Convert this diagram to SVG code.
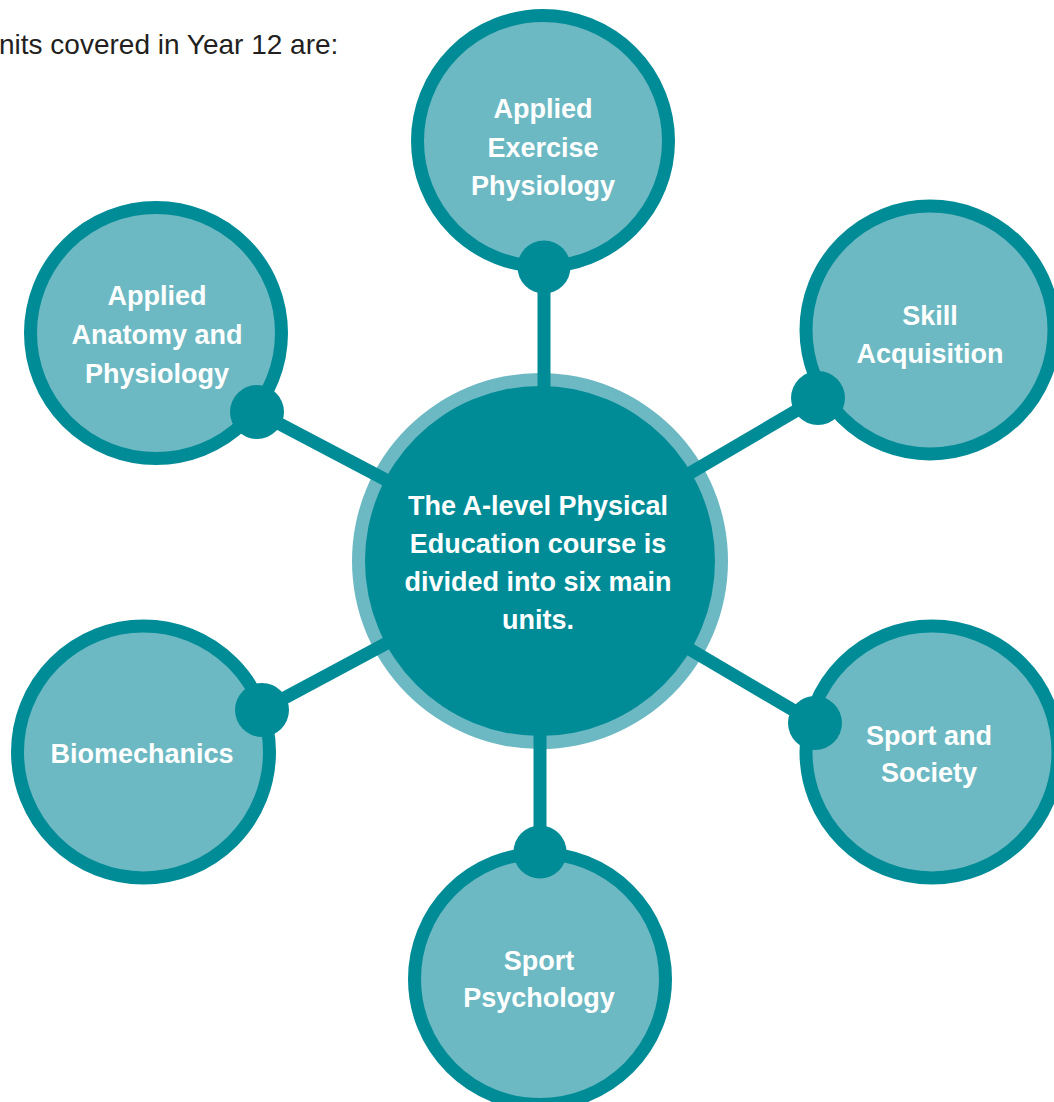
<svg xmlns="http://www.w3.org/2000/svg" width="1054" height="1102" viewBox="0 0 1054 1102">
<style>
.node{fill:#6cb9c3;stroke:#008c97;stroke-width:13}
.dot{fill:#008c97}
.conn{stroke:#008c97;stroke-width:13;fill:none}
.lbl{font-family:"Liberation Sans",Arial,sans-serif;font-weight:bold;font-size:27px;fill:#ffffff;text-anchor:middle}
.intro{font-family:"Liberation Sans",Arial,sans-serif;font-size:28px;fill:#231f20}
</style>
<rect width="1054" height="1102" fill="#ffffff"/>
<text class="intro" x="-1" y="54">nits covered in Year 12 are:</text>

<g id="node-aep">
<circle class="node" cx="543" cy="141" r="125.5"/>
<text class="lbl" x="543" y="118">Applied</text>
<text class="lbl" x="543" y="157">Exercise</text>
<text class="lbl" x="543" y="195">Physiology</text>
</g>
<g id="node-aap">
<circle class="node" cx="156" cy="333" r="125.5"/>
<text class="lbl" x="157" y="305">Applied</text>
<text class="lbl" x="157" y="344">Anatomy and</text>
<text class="lbl" x="157" y="383">Physiology</text>
</g>
<g id="node-skill">
<circle class="node" cx="930" cy="330" r="124"/>
<text class="lbl" x="930" y="325">Skill</text>
<text class="lbl" x="930" y="363">Acquisition</text>
</g>
<g id="node-bio">
<circle class="node" cx="143.5" cy="752" r="126"/>
<text class="lbl" x="142" y="763">Biomechanics</text>
</g>
<g id="node-soc">
<circle class="node" cx="932" cy="752" r="126"/>
<text class="lbl" x="929" y="745">Sport and</text>
<text class="lbl" x="929" y="782">Society</text>
</g>
<g id="node-psy">
<circle class="node" cx="540" cy="979" r="125.5"/>
<text class="lbl" x="539" y="970">Sport</text>
<text class="lbl" x="539" y="1007">Psychology</text>
</g>

<g id="center-ring">
<circle cx="540" cy="561" r="188" fill="#6cb9c3"/>
</g>

<g id="connectors">
<line class="conn" x1="544" y1="267" x2="544" y2="420"/>
<line class="conn" x1="540" y1="852" x2="540" y2="700"/>
<line class="conn" x1="257" y1="412" x2="540" y2="561"/>
<line class="conn" x1="818" y1="398" x2="540" y2="561"/>
<line class="conn" x1="262" y1="710" x2="540" y2="561"/>
<line class="conn" x1="815" y1="723" x2="540" y2="561"/>
<circle class="dot" cx="544" cy="267" r="26.5"/>
<circle class="dot" cx="540" cy="852" r="26.5"/>
<circle class="dot" cx="257" cy="412" r="27"/>
<circle class="dot" cx="818" cy="398" r="27"/>
<circle class="dot" cx="262" cy="710" r="27"/>
<circle class="dot" cx="815" cy="723" r="27"/>
</g>

<g id="node-center">
<circle cx="540" cy="561" r="175" fill="#008c97"/>
<text class="lbl" x="538" y="515">The A-level Physical</text>
<text class="lbl" x="538" y="553">Education course is</text>
<text class="lbl" x="538" y="591">divided into six main</text>
<text class="lbl" x="538" y="629">units.</text>
</g>
</svg>
